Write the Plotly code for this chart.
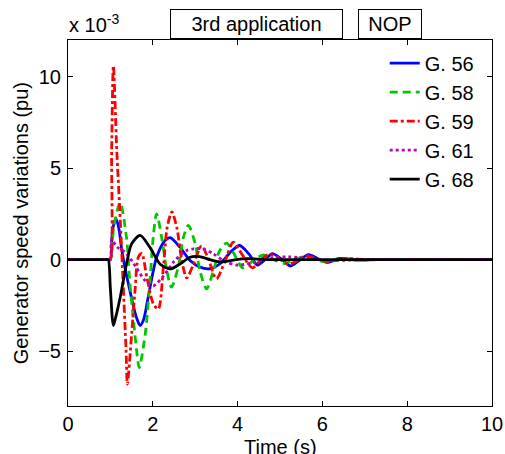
import plotly.graph_objects as go

# Generator speed variations (x 1e-3 pu)
t_g56 = [0, 0.5, 0.9, 0.96, 1.0, 1.05, 1.13, 1.2, 1.27, 1.46, 1.62, 1.7, 1.78, 1.89, 2.09, 2.29, 2.41, 2.64,
         2.88, 3.1, 3.35, 3.6, 3.85, 4.05, 4.27, 4.47, 4.65, 4.82, 5.05, 5.25, 5.45, 5.67, 5.9, 6.12, 6.4,
         6.8, 7.3, 8, 10]
v_g56 = [0, 0, 0, 0, 0, 1.6, 2.25, 1.7, 0.5, -1.7, -3.2, -3.6, -3.3, -2.07, 0.13, 1.04, 1.2, 0.68,
         -0.05, -0.4, -0.5, -0.2, 0.45, 0.77, 0.3, -0.3, 0.0, 0.33, 0.0, -0.35, -0.05, 0.27, 0.05, -0.15, 0.06,
         -0.03, 0, 0, 0]

t_g58 = [0, 0.5, 0.9, 0.96, 1.0, 1.08, 1.23, 1.38, 1.46, 1.54, 1.62, 1.68, 1.82, 1.93, 2.01, 2.09, 2.21,
         2.33, 2.44, 2.6, 2.72, 2.84, 3.0, 3.11, 3.27, 3.43, 3.58, 3.74, 3.92, 4.12, 4.35, 4.6, 4.85, 5.1,
         5.35, 5.55, 5.8, 6.05, 6.5, 7.0, 8, 10]
v_g58 = [0, 0, 0, 0, 0, 1.8, 3.1, 1.2, -1.3, -3.2, -5.0, -5.9, -4.1, -1.3, 1.23, 2.5, 1.2,
         -0.6, -1.5, -0.4, 1.2, 1.87, 0.86, -0.6, -1.6, -0.6, 0.5, 0.9, 0.3, -0.45, -0.1, 0.25, 0.0, -0.2,
         0.0, 0.15, 0.0, -0.1, 0.05, 0, 0, 0]

t_g59 = [0, 0.5, 0.9, 0.96, 1.0, 1.03, 1.07, 1.15, 1.23, 1.3, 1.37, 1.4, 1.5, 1.58, 1.66, 1.74, 1.86, 2.01,
         2.13, 2.25, 2.34, 2.45, 2.57, 2.68, 2.8, 2.95, 3.15, 3.3, 3.5, 3.7, 3.9, 4.1, 4.35, 4.55, 4.75,
         5.0, 5.2, 5.45, 5.65, 5.9, 6.1, 6.6, 7.0, 8, 10]
v_g59 = [0, 0, 0, 0, 0, 6.0, 10.6, 6.0, 2.3, -1.3, -5.0, -6.8, -4.1, -1.7, 0.13, 0.33, -0.97, -2.4,
         -2.7, -0.4, 1.78, 2.6, 1.7, 0.0, -1.0, -0.3, 0.75, 0.1, -1.05, -0.1, 0.95, 0.3, -0.45, 0.0, 0.3,
         0.0, -0.25, 0.0, 0.2, 0.0, -0.1, 0.05, 0, 0, 0]

t_g61 = [0, 0.5, 0.9, 0.96, 1.0, 1.03, 1.15, 1.35, 1.6, 1.82, 2.01, 2.25, 2.5, 2.8, 2.96, 3.18, 3.43, 3.7,
         4.0, 4.4, 4.8, 5.2, 5.7, 6.2, 7.0, 8, 10]
v_g61 = [0, 0, 0, 0, 0, 1.1, 0.7, 0.4, -0.4, -1.15, -1.43, -0.9, -0.1, 0.5, 0.59, 0.59, 0.31, -0.1,
         -0.3, -0.15, 0.1, 0.15, 0.05, -0.05, 0, 0, 0]

t_g68 = [0, 0.5, 0.88, 0.92, 0.95, 1.0, 1.07, 1.12, 1.23, 1.38, 1.5, 1.7, 1.93, 2.17, 2.41, 2.64, 2.88,
         3.1, 3.43, 3.6, 3.9, 4.2, 4.7, 6, 8, 10]
v_g68 = [0, 0, 0, 0, 0, -1.6, -3.6, -3.2, -2.07, -0.24, 0.86, 1.32, 0.68, -0.24, -0.51, -0.24, 0.13,
         0.16, -0.05, -0.12, -0.03, 0.05, 0.0, 0, 0, 0]

names = ["G. 56", "G. 58", "G. 59", "G. 61", "G. 68"]
x_ticks = [0, 2, 4, 6, 8, 10]
y_ticks = [-5, 0, 5, 10]

FONT = "Liberation Sans, Arial, sans-serif"

series = [
    (t_g56, v_g56, "rgb(0,0,255)", "solid"),
    (t_g58, v_g58, "rgb(0,200,0)", "8px,5px"),
    (t_g59, v_g59, "rgb(255,0,0)", "8px,3px,3px,3px"),
    (t_g61, v_g61, "rgb(191,0,191)", "3px,3px"),
    (t_g68, v_g68, "rgb(0,0,0)", "solid"),
]

fig = go.Figure()
for name, (t, v, color, dash) in zip(names, series):
    fig.add_trace(go.Scatter(
        x=t, y=v, name=name, mode="lines",
        line=dict(color=color, width=2.8, dash=dash, shape="spline", smoothing=0.8),
    ))

axis_common = dict(
    showline=True, linecolor="black", linewidth=1, mirror="ticks", automargin=False,
    ticks="inside", ticklen=5, tickcolor="black", showgrid=False, zeroline=False,
    tickfont=dict(family=FONT, size=20, color="black"),
)

fig.update_layout(
    width=505, height=454,
    margin=dict(l=68, r=13, t=40, b=48, autoexpand=False),
    paper_bgcolor="white", plot_bgcolor="white",
    font=dict(family=FONT, size=20, color="black"),
    xaxis=dict(range=[0, 10], tickvals=x_ticks, ticklabelstandoff=0, **axis_common),
    yaxis=dict(range=[-8, 12], tickvals=y_ticks, ticklabelstandoff=2, **axis_common),
    legend=dict(x=0.747, y=0.99, xanchor="left", yanchor="top", bgcolor="rgba(0,0,0,0)",
                borderwidth=0, font=dict(family=FONT, size=20), tracegroupgap=0),
    showlegend=True,
)

annotations = [
    dict(text="Time (s)", x=0.5, y=-0.112, xanchor="center", yanchor="middle"),
    dict(text="Generator speed variations (pu)", x=-0.11, y=0.5, textangle=-90,
         xanchor="center", yanchor="middle"),
    dict(text="x 10<sup>-3</sup>", x=-0.002, y=1.045, xanchor="left", yanchor="middle"),
    dict(text="3rd application", x=0.4446, y=1.044, xanchor="center", yanchor="middle",
         bordercolor="black", borderwidth=1, width=169, height=26, borderpad=1),
    dict(text="NOP", x=0.7594, y=1.044, xanchor="center", yanchor="middle",
         bordercolor="black", borderwidth=1, width=60, height=26, borderpad=1),
]
for a in annotations:
    fig.add_annotation(xref="paper", yref="paper", showarrow=False,
                       font=dict(family=FONT, size=20, color="black"), **a)

# drop the default 8px body margin so the figure fills the window exactly
fig.write_html("out.html", config={"displayModeBar": False},
               post_script="document.body.style.margin='0';document.body.style.overflow='hidden';")
